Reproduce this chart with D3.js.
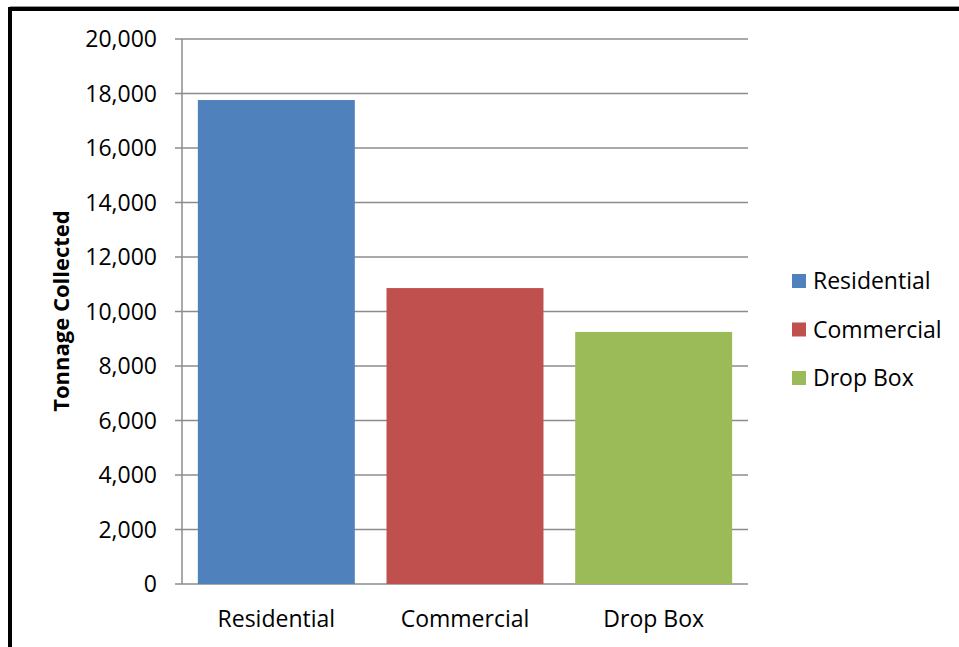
<!DOCTYPE html>
<html><head><meta charset="utf-8">
<script src="https://cdn.jsdelivr.net/npm/d3@7"></script>
<style>body{margin:0;background:#fff}svg{display:block}text{font-family:"Open Sans","Noto Sans",sans-serif;fill:#000}</style>
</head><body>
<svg id="c" width="959" height="647"></svg>
<script>
const categories = ["Residential", "Commercial", "Drop Box"];
const values = [17760, 10860, 9250];
const colors = ["#4F81BD", "#C0504D", "#9BBB59"];
const yTicks = [0, 2000, 4000, 6000, 8000, 10000, 12000, 14000, 16000, 18000, 20000];
const yTitle = "Tonnage Collected";

(function(){
const svg = d3.select("#c");
// frame
svg.append("line").attr("x1",10).attr("y1",6.5).attr("x2",959).attr("y2",6.5).attr("stroke","#999").attr("stroke-width",1);
svg.append("rect").attr("x",10).attr("y",9).attr("width",960).attr("height",660)
  .attr("fill","none").attr("stroke","#000").attr("stroke-width",4);

const pl = 182, pr = 748, pt = 39, pb = 584;
const y = d3.scaleLinear().domain([0, 20000]).range([pb, pt]);
const x = d3.scaleBand().domain(categories).range([pl, pr]).paddingInner(0.168).paddingOuter(0.084);

// grid
svg.append("g").selectAll("line").data(yTicks).join("line")
  .attr("x1", pl - 7).attr("x2", pr).attr("y1", d => y(d)).attr("y2", d => y(d))
  .attr("stroke", "#8c8c8c").attr("stroke-width", 1.5);

// bars
svg.append("g").selectAll("rect").data(categories).join("rect")
  .attr("x", d => x(d)).attr("width", x.bandwidth())
  .attr("y", (d,i) => y(values[i])).attr("height", (d,i) => pb - y(values[i]))
  .attr("fill", (d,i) => colors[i]);

// y axis line
svg.append("line").attr("x1", pl).attr("x2", pl).attr("y1", pt).attr("y2", pb)
  .attr("stroke", "#8c8c8c").attr("stroke-width", 1.5);

// y tick labels
svg.append("g").selectAll("text").data(yTicks).join("text")
  .attr("x", 157).attr("y", d => y(d)).attr("dy", "0.36em").attr("text-anchor", "end")
  .style("font-size", "23px").text(d => d3.format(",")(d));

// x labels
svg.append("g").selectAll("text").data(categories).join("text")
  .attr("x", d => x(d) + x.bandwidth()/2).attr("y", 627).attr("text-anchor", "middle")
  .style("font-size", "23px").text(d => d);

// y title
svg.append("text").attr("transform", "translate(69,311) rotate(-90)").attr("text-anchor", "middle")
  .style("font-size", "22px").style("font-weight", "bold").text(yTitle);

// legend
const lg = svg.append("g").selectAll("g").data(categories).join("g")
  .attr("transform", (d,i) => `translate(792,${281 + i*48.5})`);
lg.append("rect").attr("x", 0).attr("y", -7).attr("width", 14).attr("height", 14).attr("fill", (d,i) => colors[i]);
lg.append("text").attr("x", 21).attr("dy", "0.36em").style("font-size", "23px").text(d => d);
})();
</script>
</body></html>
